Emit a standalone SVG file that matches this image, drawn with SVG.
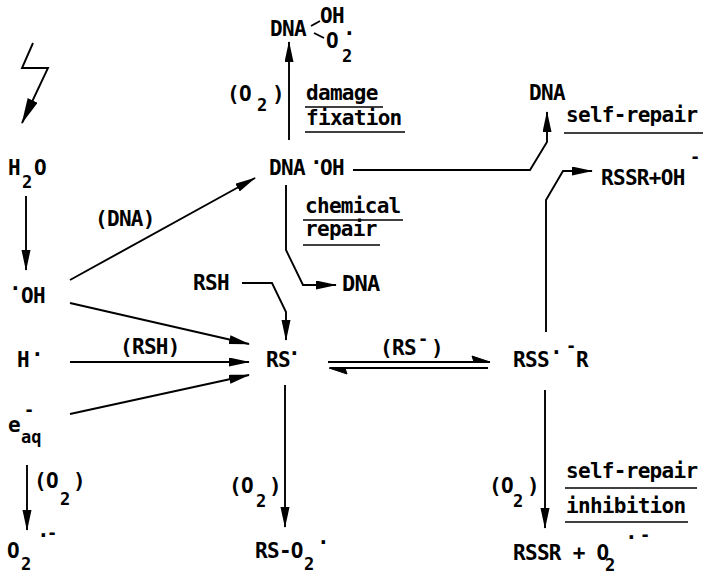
<svg xmlns="http://www.w3.org/2000/svg" width="703" height="574" viewBox="0 0 703 574">
<style>
text{font-family:"DejaVu Sans Mono","Liberation Mono",monospace;font-weight:bold;font-size:21px;letter-spacing:-0.7px;fill:#000}
.s{font-size:17px;letter-spacing:0}
.d{font-size:21px;letter-spacing:0}
.c{fill:none;stroke:#000;stroke-width:1.9}
.u{stroke:#000;stroke-width:1.6}
</style>
<defs>
<marker id="a" markerUnits="userSpaceOnUse" markerWidth="21" markerHeight="10" refX="20" refY="4.5" orient="auto" viewBox="0 0 21 10">
<path d="M0,0 L21,4.5 L0,9 z" fill="#000"/>
</marker>
<marker id="b" markerUnits="userSpaceOnUse" markerWidth="26" markerHeight="12" refX="25" refY="5.5" orient="auto" viewBox="0 0 26 12">
<path d="M0,0 L26,5.5 L0,11 z" fill="#000"/>
</marker>
</defs>
<rect width="703" height="574" fill="#fff"/>
<g id="connectors">
<polyline class="c" points="33,43 22,68 48,68 22,123" marker-end="url(#b)"/>
<line class="c" x1="26" y1="196" x2="26" y2="270" marker-end="url(#a)"/>
<line class="c" x1="70" y1="280" x2="255" y2="178" marker-end="url(#a)"/>
<line class="c" x1="70" y1="303" x2="249" y2="344" marker-end="url(#a)"/>
<line class="c" x1="70" y1="362" x2="249" y2="362" marker-end="url(#a)"/>
<line class="c" x1="70" y1="414" x2="249" y2="375" marker-end="url(#a)"/>
<line class="c" x1="27" y1="465" x2="27" y2="530" marker-end="url(#a)"/>
<line class="c" x1="289" y1="140" x2="289" y2="42" marker-end="url(#a)"/>
<polyline class="c" points="353,170 530,170 547,142 547,112" marker-end="url(#a)"/>
<polyline class="c" points="286,185 286,250 303,285 336,285" marker-end="url(#a)"/>
<polyline class="c" points="242,283 272,283 286,312 286,340" marker-end="url(#a)"/>
<line class="c" x1="285" y1="385" x2="285" y2="527" marker-end="url(#a)"/>
<line class="c" x1="328" y1="362" x2="490" y2="362"/>
<path d="M490,362 L472,356 L474,362 z" fill="#000" stroke="#000" stroke-width="1"/>
<line class="c" x1="488" y1="368" x2="330" y2="368"/>
<path d="M329,368 L347,374 L345,368 z" fill="#000" stroke="#000" stroke-width="1"/>
<polyline class="c" points="546,332 546,200 563,171 592,171" marker-end="url(#a)"/>
<line class="c" x1="545" y1="390" x2="545" y2="528" marker-end="url(#a)"/>
<line class="c" x1="311" y1="26" x2="320" y2="21"/>
<line class="c" x1="314" y1="33" x2="324" y2="38"/>
</g>
<g id="n-dnaoho2">
<text x="270" y="36">DNA</text>
<text x="320" y="23">OH</text>
<text><tspan x="326" y="48">O</tspan><tspan class="s" x="342" y="62">2</tspan><tspan class="d" x="343" y="41">·</tspan></text>
</g>
<g id="l-damage">
<text><tspan x="227" y="101">(O</tspan><tspan class="s" x="257" y="111">2</tspan><tspan x="272" y="101">)</tspan></text>
<text x="306" y="100">damage</text>
<line class="u" x1="305" y1="107" x2="383" y2="107"/>
<text x="306" y="125">fixation</text>
<line class="u" x1="305" y1="132" x2="405" y2="132"/>
</g>
<g id="n-dnaoh">
<text><tspan x="269" y="175">DNA</tspan><tspan class="d" x="310" y="170">·</tspan><tspan x="320" y="175">OH</tspan></text>
</g>
<g id="n-dna-self">
<text x="529" y="100">DNA</text>
<text x="566" y="122">self-repair</text>
<line class="u" x1="564" y1="133" x2="703" y2="133"/>
</g>
<g id="n-rssroh">
<text><tspan x="601" y="185">RSSR+OH</tspan><tspan class="s" x="690" y="163">-</tspan></text>
</g>
<g id="l-chem">
<text x="305" y="213">chemical</text>
<line class="u" x1="303" y1="220" x2="403" y2="220"/>
<text x="305" y="236">repair</text>
<line class="u" x1="303" y1="245" x2="380" y2="245"/>
</g>
<g id="n-dna-chem">
<text x="342" y="291" style="font-size:22px">DNA</text>
</g>
<g id="n-rsh">
<text x="193" y="290">RSH</text>
</g>
<g id="l-dna">
<text x="95" y="226">(DNA)</text>
</g>
<g id="n-h2o">
<text><tspan x="8" y="175">H</tspan><tspan class="s" x="22" y="188">2</tspan><tspan x="34" y="175">O</tspan></text>
</g>
<g id="n-oh">
<text><tspan class="d" x="9" y="296">·</tspan><tspan x="21" y="303">OH</tspan></text>
</g>
<g id="n-h">
<text><tspan x="17" y="367">H</tspan><tspan class="d" x="31" y="362">·</tspan></text>
</g>
<g id="l-rsh">
<text x="120" y="354">(RSH)</text>
</g>
<g id="n-eaq">
<text><tspan x="8" y="432">e</tspan><tspan class="s" x="24" y="416">-</tspan><tspan class="s" x="21" y="443">aq</tspan></text>
</g>
<g id="l-o2-e">
<text><tspan x="34" y="488">(O</tspan><tspan class="s" x="60" y="505">2</tspan><tspan x="73" y="488">)</tspan></text>
</g>
<g id="n-o2-left">
<text><tspan x="7" y="558">O</tspan><tspan class="s" x="21" y="570">2</tspan><tspan class="d" x="37" y="543">·</tspan><tspan class="s" x="47" y="539">-</tspan></text>
</g>
<g id="n-rs">
<text><tspan x="266" y="367">RS</tspan><tspan class="d" x="288" y="361">·</tspan></text>
</g>
<g id="l-o2-rs">
<text><tspan x="229" y="493">(O</tspan><tspan class="s" x="256" y="507">2</tspan><tspan x="269" y="493">)</tspan></text>
</g>
<g id="n-rso2">
<text><tspan x="255" y="558">RS-O</tspan><tspan class="s" x="304" y="570">2</tspan><tspan class="d" x="317" y="550">·</tspan></text>
</g>
<g id="l-rsminus">
<text><tspan x="380" y="355">(RS</tspan><tspan class="s" x="418" y="345">-</tspan><tspan x="431" y="355">)</tspan></text>
</g>
<g id="n-rss">
<text><tspan x="513" y="367">RSS</tspan><tspan class="d" x="550" y="360">·</tspan><tspan class="s" x="566" y="352">-</tspan><tspan x="576" y="367">R</tspan></text>
</g>
<g id="l-o2-rss">
<text><tspan x="489" y="493">(O</tspan><tspan class="s" x="513" y="507">2</tspan><tspan x="527" y="493">)</tspan></text>
<text x="566" y="478">self-repair</text>
<line class="u" x1="565" y1="488" x2="697" y2="488"/>
<text x="566" y="513">inhibition</text>
<line class="u" x1="565" y1="522" x2="688" y2="522"/>
</g>
<g id="n-rssro2">
<text><tspan x="513" y="560">RSSR + O</tspan><tspan class="s" x="605" y="571">2</tspan><tspan class="d" x="625" y="545">·</tspan><tspan class="s" x="640" y="541">-</tspan></text>
</g>
</svg>
